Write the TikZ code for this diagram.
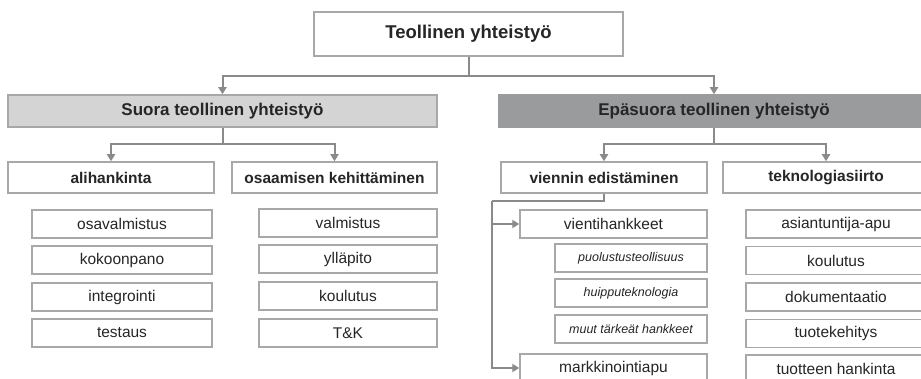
\documentclass[tikz,border=0pt]{standalone}
\usepackage{fontspec}
\setmainfont{Liberation Sans}
\usetikzlibrary{arrows.meta}
\definecolor{linec}{HTML}{8A8A8A}
\definecolor{boxc}{HTML}{A8A8A8}
\definecolor{lightf}{HTML}{D4D4D4}
\definecolor{darkf}{HTML}{9A9B9D}
\definecolor{txt}{HTML}{262626}
\begin{document}
\begin{tikzpicture}[x=1pt,y=-1pt,
  box/.style={draw=boxc,line width=1.5pt,fill=white,rectangle,inner sep=0pt,text=txt},
  topbox/.style={box,minimum width=309pt,minimum height=44pt,font=\fontsize{18.5}{20}\selectfont\bfseries},
  lvltwo/.style={box,minimum width=429pt,minimum height=32pt,font=\fontsize{17}{19}\selectfont\bfseries},
  lvlthree/.style={box,minimum width=206pt,minimum height=31pt,font=\fontsize{15.5}{17}\selectfont\bfseries},
  item/.style={box,minimum width=180pt,minimum height=28pt,font=\fontsize{15.5}{17}\selectfont},
  subitem/.style={box,minimum width=152pt,minimum height=28pt,font=\fontsize{12.5}{14}\selectfont\itshape},
  conn/.style={draw=linec,line width=2pt},
  arr/.style={conn,-{Triangle[width=8pt,length=7pt]}}
]
\useasboundingbox (0,0) rectangle (921,379);
\fill[white] (0,0) rectangle (921,379);

\node[topbox] (top) at (468.5,34) {Teollinen yhteistyö};
\node[lvltwo,fill=lightf] (suora) at (222.5,111) {Suora teollinen yhteistyö};
\node[lvltwo,fill=darkf,draw=darkf,minimum width=430pt] (epas) at (714,111) {Epäsuora teollinen yhteistyö};

\node[lvlthree] (ali) at (111,177.5) {alihankinta};
\node[lvlthree,minimum width=205pt] (osaa) at (334.5,177.5) {osaamisen kehittäminen};
\node[lvlthree] (vien) at (604,177.5) {viennin edistäminen};
\node[lvlthree] (tekn) at (826,177.5) {teknologiasiirto};

\node[item] (a1) at (122,224) {osavalmistus};
\node[item] (a2) at (122,260) {kokoonpano};
\node[item] (a3) at (122,297) {integrointi};
\node[item] (a4) at (122,333) {testaus};

\node[item,minimum width=178pt] (b1) at (348,223) {valmistus};
\node[item,minimum width=178pt] (b2) at (348,259) {ylläpito};
\node[item,minimum width=178pt] (b3) at (348,296) {koulutus};
\node[item,minimum width=178pt] (b4) at (348,333) {T\&K};

\node[item,minimum width=187pt] (c1) at (613.5,224) {vientihankkeet};
\node[subitem] (c2) at (631,258) {puolustusteollisuus};
\node[subitem] (c3) at (631,293) {huipputeknologia};
\node[subitem] (c4) at (631,329) {muut tärkeät hankkeet};
\node[item,minimum width=187pt] (c5) at (613.5,368) {markkinointiapu};

\node[item] (d1) at (836,224) {asiantuntija-apu};
\node[item] (d2) at (836,260.5) {koulutus};
\node[item] (d3) at (836,297) {dokumentaatio};
\node[item] (d4) at (836,333.5) {tuotekehitys};
\node[item] (d5) at (836,369) {tuotteen hankinta};

% connectors
\coordinate (j1) at (468.5,76);
\draw[conn] (top.south) -- (j1);
\draw[arr] (j1) -| (suora.north);
\draw[arr] (j1) -| (epas.north);

\coordinate (j2) at (222.5,144);
\draw[conn] (suora.south) -- (j2);
\draw[arr] (j2) -| (ali.north);
\draw[arr] (j2) -| (osaa.north);

\coordinate (j3) at (714,144);
\draw[conn] (epas.south) -- (j3);
\draw[arr] (j3) -| (vien.north);
\draw[arr] (j3) -| (tekn.north);

\coordinate (v1) at (604,201);
\coordinate (v2) at (492,201);
\draw[conn] (vien.south) -- (v1) -- (v2);
\draw[arr] (v2) |- (c5.west);
\draw[arr] (v2 |- c1.west) -- (c1.west);
\end{tikzpicture}
\end{document}
